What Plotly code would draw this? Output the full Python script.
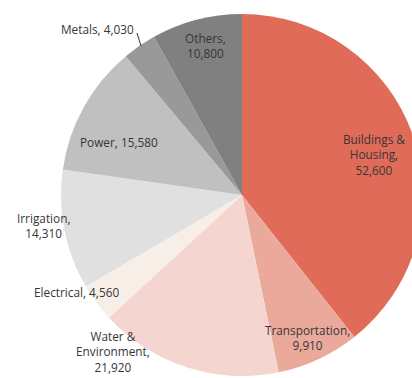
import plotly.graph_objects as go

categories = ["Buildings &<br>Housing,", "Transportation,", "Water &<br>Environment,",
              "Electrical,", "Irrigation,", "Power,", "Metals,", "Others,"]
values = [52600, 9910, 21920, 4560, 14310, 15580, 4030, 10800]
value_labels = ["52,600", "9,910", "21,920", "4,560", "14,310", "15,580", "4,030", "10,800"]
colors = ["#E06B58", "#EBA99B", "#F5D5CF", "#F8EEE8", "#E0E0E0", "#C0C0C0", "#999999", "#808080"]

# label layout (pixel centres in the 412x378 view) and how the value joins the name
label_px = [(374, 154), (307, 337), (113, 351), (76, 292), (43, 225), (119, 142), (97, 29), (205, 46)]
label_sep = ["<br>", "<br>", "<br>", " ", "<br>", " ", " ", "<br>"]

CX, CY, R = 242, 195, 181
W, H = CX + R, 378   # the pie runs past the right edge of the 412px view

fig = go.Figure(go.Pie(
    labels=[c.replace("<br>", " ") for c in categories],
    values=values,
    sort=False,
    direction="clockwise",
    rotation=0,
    marker=dict(colors=colors, line=dict(width=0)),
    textinfo="none",
    hoverinfo="label+value",
    domain=dict(x=[(CX - R) / W, 1.0], y=[(H - CY - R) / H, (H - CY + R) / H]),
))

for cat, v, sep, (px, py) in zip(categories, value_labels, label_sep, label_px):
    fig.add_annotation(
        x=px / W, y=1 - py / H, xref="paper", yref="paper",
        text=cat + sep + v, showarrow=False, align="center",
        xanchor="center", yanchor="middle",
        font=dict(family="'Open Sans', sans-serif", size=11.8, color="#363636"),
    )

# leader line for Metals
fig.add_shape(type="line", xref="paper", yref="paper",
              x0=137 / W, y0=1 - 33 / H, x1=141 / W, y1=1 - 46 / H,
              line=dict(color="#333333", width=1))

fig.update_layout(
    width=W, height=H,
    margin=dict(l=0, r=0, t=0, b=0),
    paper_bgcolor="white", plot_bgcolor="white",
    showlegend=False,
)

fig.write_html(
    "out.html",
    config={"displayModeBar": False},
    post_script="document.body.style.margin='0';document.body.style.overflow='hidden';",
)
